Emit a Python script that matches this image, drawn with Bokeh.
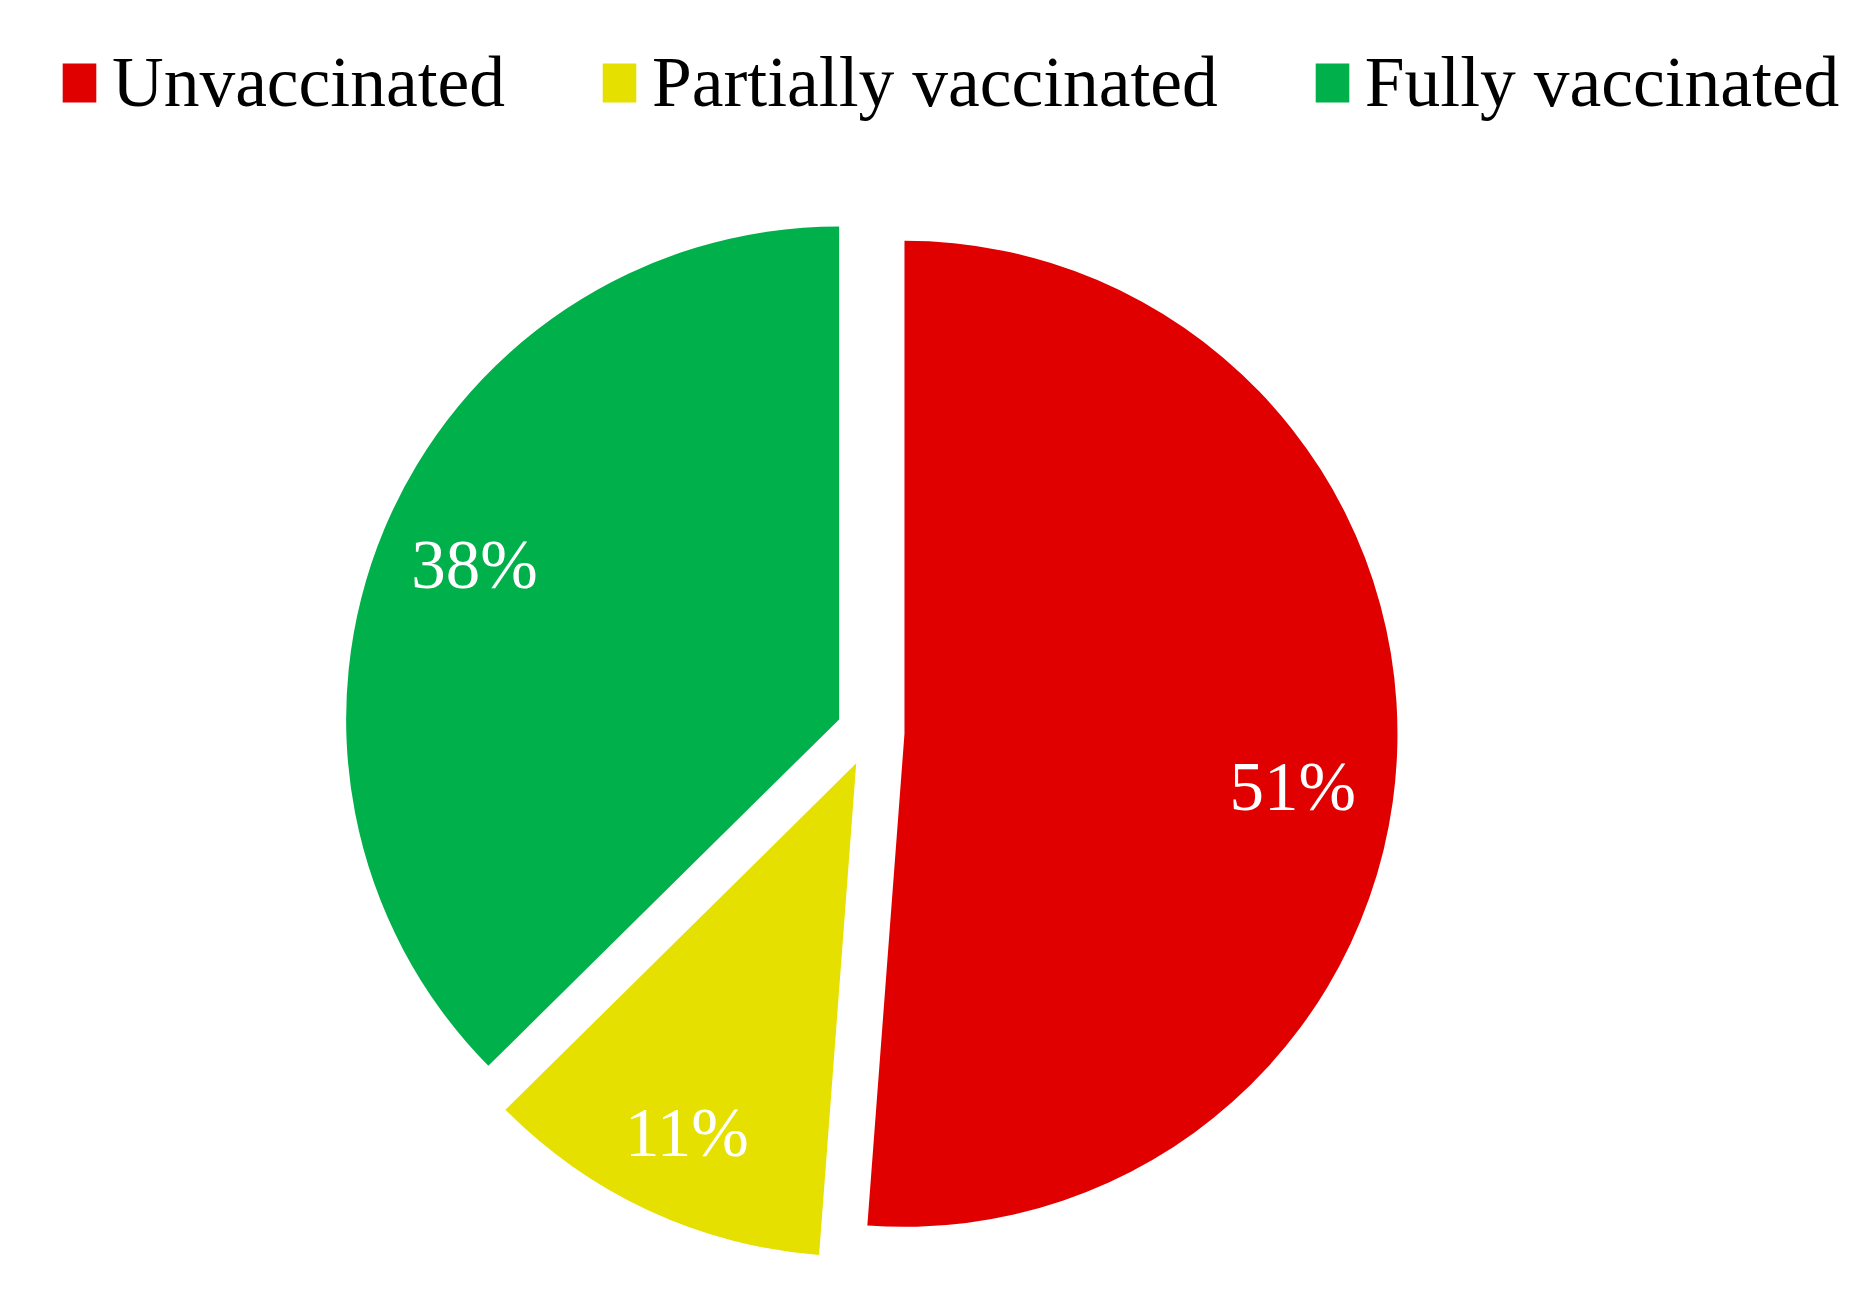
import math
from bokeh.plotting import figure
from bokeh.models import Range1d, ColumnDataSource, Legend, LegendItem
from bokeh.core.properties import value
from bokeh.embed import file_html
from bokeh.resources import INLINE

# ---- data (shares; labels as printed) ----
categories = ["Unvaccinated", "Partially vaccinated", "Fully vaccinated"]
shares = [51.2, 11.4, 37.4]
labels = ["51%", "11%", "38%"]
colors = ["#E00000", "#E5E000", "#00B04A"]

# ---- layout (pixels) ----
W, H = 1856, 1275
CX, CY_TOP = 870, 732      # pie centre, measured from the top
R = 493
EXPLODE = 34
# label placement: (fraction of radius, angular tweak in degrees) per slice
LABEL_POS = [(0.795, 5.7), (0.824, -0.2), (0.803, 0.2)]

p = figure(width=W, height=H, output_backend="svg", toolbar_location=None,
           x_range=Range1d(0, W), y_range=Range1d(0, H),
           min_border=0, outline_line_color=None)
p.axis.visible = False
p.grid.visible = False
p.background_fill_color = "white"
p.border_fill_color = "white"

cy = H - CY_TOP
total = sum(shares)
cum = 0.0
lx, ly = [], []
renderers = []
for i, v in enumerate(shares):
    t1 = cum / total * 2 * math.pi          # clockwise from top
    t2 = (cum + v) / total * 2 * math.pi
    mid = (t1 + t2) / 2
    x0 = CX + EXPLODE * math.sin(mid)
    y0 = cy + EXPLODE * math.cos(mid)
    r = p.wedge(x=x0, y=y0, radius=R, start_angle=math.pi / 2 - t1,
                end_angle=math.pi / 2 - t2, direction="clock",
                fill_color=colors[i], line_color=None)
    renderers.append(r)
    frac, tweak = LABEL_POS[i]
    la = mid + math.radians(tweak)
    lx.append(x0 + frac * R * math.sin(la))
    ly.append(y0 + frac * R * math.cos(la))
    cum += v

src = ColumnDataSource(dict(lx=lx, ly=ly, label=labels))
p.text(x="lx", y="ly", text="label", source=src, text_color="white",
       text_font=value("Liberation Serif"), text_font_size="69px",
       text_align="center", text_baseline="middle")

legend = Legend(items=[LegendItem(label=c, renderers=[r]) for c, r in zip(categories, renderers)],
                orientation="horizontal", location=(58, 1152),
                label_text_font="Liberation Serif", label_text_font_size="71.5px",
                label_text_color="black",
                glyph_width=42, glyph_height=49, label_standoff=12, spacing=93,
                padding=0, margin=0, border_line_color=None,
                background_fill_alpha=0)
p.add_layout(legend)

open("out.html", "w").write(file_html(p, INLINE))
